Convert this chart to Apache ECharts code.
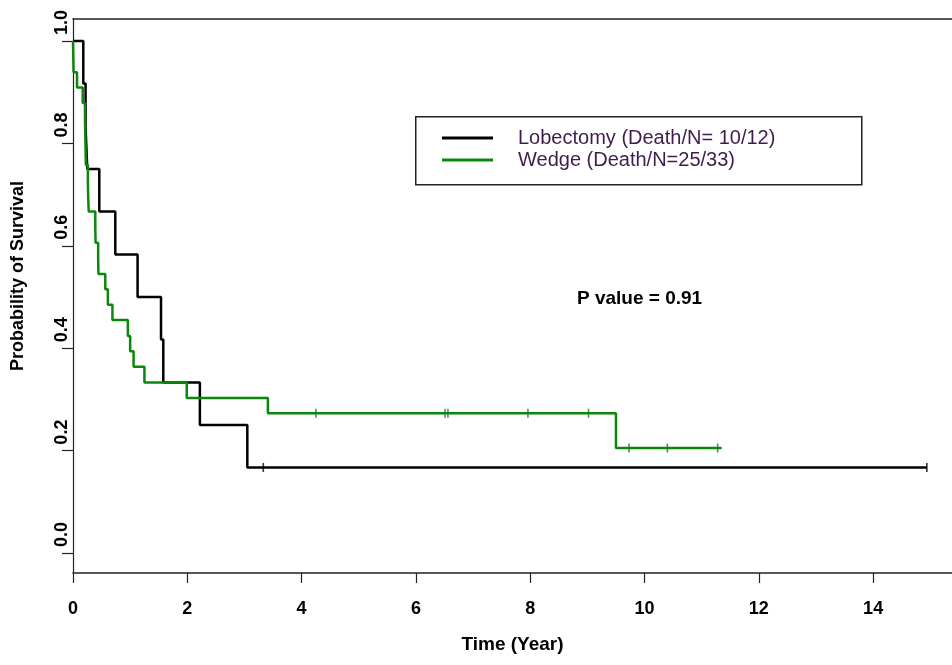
<!DOCTYPE html>
<html>
<head>
<meta charset="utf-8">
<title>Survival: Lobectomy vs Wedge</title>
<script src="https://cdn.jsdelivr.net/npm/echarts@6/dist/echarts.min.js"></script>
<style>
html, body { margin: 0; padding: 0; background: #fff; }
#chart { width: 952px; height: 665px; }
</style>
</head>
<body>
<div id="chart"></div>
<script>
// KM steps: time (year) / probability of survival
var seriesNames = ['Lobectomy (Death/N= 10/12)', 'Wedge (Death/N=25/33)'];

var lobTime = [0, 0.18, 0.22, 0.25, 0.46, 0.74, 1.13, 1.54, 1.58, 2.22, 3.05, 14.94];
var lobSurv = [1.0, 0.917, 0.833, 0.750, 0.667, 0.583, 0.500, 0.417, 0.333, 0.250, 0.167, 0.167];
var lobCensorTime = [3.33, 14.94];
var lobCensorSurv = [0.167, 0.167];

var wedgeTime = [0, 0.005, 0.01, 0.07, 0.17, 0.21, 0.215, 0.22, 0.225, 0.26, 0.265, 0.275,
  0.39, 0.395, 0.44, 0.445, 0.565, 0.61, 0.69, 0.96, 1.0, 1.06, 1.25, 1.99, 3.41, 9.5, 11.35];
var wedgeSurv = [1.0, 0.970, 0.939, 0.909, 0.879, 0.848, 0.818, 0.788, 0.758, 0.727, 0.697, 0.667,
  0.636, 0.606, 0.576, 0.545, 0.515, 0.485, 0.455, 0.424, 0.394, 0.364, 0.333, 0.303, 0.273, 0.205, 0.205];
var wedgeCensorTime = [4.25, 6.51, 6.56, 7.96, 9.02, 9.73, 10.4, 11.28];
var wedgeCensorSurv = [0.273, 0.273, 0.273, 0.273, 0.273, 0.205, 0.205, 0.205];

var xTicks = [0, 2, 4, 6, 8, 10, 12, 14];
var yTicks = [0, 0.2, 0.4, 0.6, 0.8, 1.0];

var pValueText = 'P value = 0.91';

function pairs(xs, ys) {
  return xs.map(function (x, i) { return [x, ys[i]]; });
}

var black = '#000000';
var green = '#0b870b';
var axisFont = '"Liberation Sans", Arial, sans-serif';

var chart = echarts.init(document.getElementById('chart'));

chart.setOption({
  backgroundColor: '#fff',
  animation: false,
  grid: { left: 73, top: 19, right: 0, bottom: 92 },
  xAxis: [
    {
      type: 'value',
      min: 0,
      max: 15.38,
      name: 'Time (Year)',
      nameLocation: 'middle',
      nameGap: 62,
      nameTextStyle: { fontFamily: axisFont, fontWeight: 'bold', fontSize: 19, color: '#000' },
      axisLine: { show: true, onZero: false, lineStyle: { color: '#222', width: 1.5 } },
      axisTick: { show: true, length: 10, customValues: xTicks, lineStyle: { color: '#222', width: 1.2 } },
      axisLabel: {
        customValues: xTicks,
        margin: 27,
        fontFamily: axisFont, fontWeight: 'bold', fontSize: 18, color: '#000'
      },
      splitLine: { show: false }
    },
    {
      // top border of the plot box
      type: 'value', position: 'top', min: 0, max: 15.38,
      axisLine: { show: true, onZero: false, lineStyle: { color: '#222', width: 1.5 } },
      axisTick: { show: false }, axisLabel: { show: false }, splitLine: { show: false }
    }
  ],
  yAxis: {
    type: 'value',
    min: -0.039,
    max: 1.043,
    axisLine: { show: true, onZero: false, lineStyle: { color: '#222', width: 1.2 } },
    axisTick: { show: true, length: 11, customValues: yTicks, lineStyle: { color: '#222', width: 1.2 } },
    axisLabel: {
      customValues: yTicks,
      rotate: 90,
      margin: 11,
      align: 'left',
      verticalAlign: 'middle',
      padding: [0, 0, 0, 6],
      formatter: function (v) { return v.toFixed(1); },
      fontFamily: axisFont, fontWeight: 'bold', fontSize: 18, color: '#000'
    },
    splitLine: { show: false }
  },
  legend: {
    data: seriesNames,
    orient: 'vertical',
    left: 442,
    top: 128,
    padding: 0,
    itemGap: 2,
    itemWidth: 51,
    itemHeight: 3,
    icon: 'rect',
    selectedMode: false,
    textStyle: {
      fontFamily: axisFont, fontSize: 20, color: '#3f1c4c',
      padding: [0, 0, 0, 20]
    }
  },
  graphic: [
    {
      type: 'rect', left: 415, top: 116, z: -1,
      shape: { width: 446, height: 68 },
      style: { fill: '#fff', stroke: '#222', lineWidth: 1.5 }
    },
    {
      type: 'text', x: 577, y: 299,
      style: {
        text: pValueText, fontFamily: axisFont, fontWeight: 'bold', fontSize: 19,
        fill: '#000', textVerticalAlign: 'middle'
      }
    },
    {
      type: 'text', x: 18, y: 276, rotation: Math.PI / 2,
      style: {
        text: 'Probability of Survival', fontFamily: axisFont, fontWeight: 'bold', fontSize: 18,
        fill: '#000', textAlign: 'center', textVerticalAlign: 'middle'
      }
    }
  ],
  series: [
    {
      name: seriesNames[0],
      type: 'line',
      step: 'end',
      symbol: 'none',
      color: black,
      lineStyle: { width: 2.5, color: black },
      data: pairs(lobTime, lobSurv)
    },
    {
      name: seriesNames[1],
      type: 'line',
      step: 'end',
      symbol: 'none',
      color: green,
      lineStyle: { width: 2.5, color: green },
      data: pairs(wedgeTime, wedgeSurv)
    },
    {
      name: 'lob-censor',
      type: 'scatter',
      symbol: 'rect',
      symbolSize: [1.6, 9],
      itemStyle: { color: black },
      data: pairs(lobCensorTime, lobCensorSurv)
    },
    {
      name: 'wedge-censor',
      type: 'scatter',
      symbol: 'rect',
      symbolSize: [1.6, 9],
      itemStyle: { color: green },
      data: pairs(wedgeCensorTime, wedgeCensorSurv)
    }
  ]
});
</script>
</body>
</html>
